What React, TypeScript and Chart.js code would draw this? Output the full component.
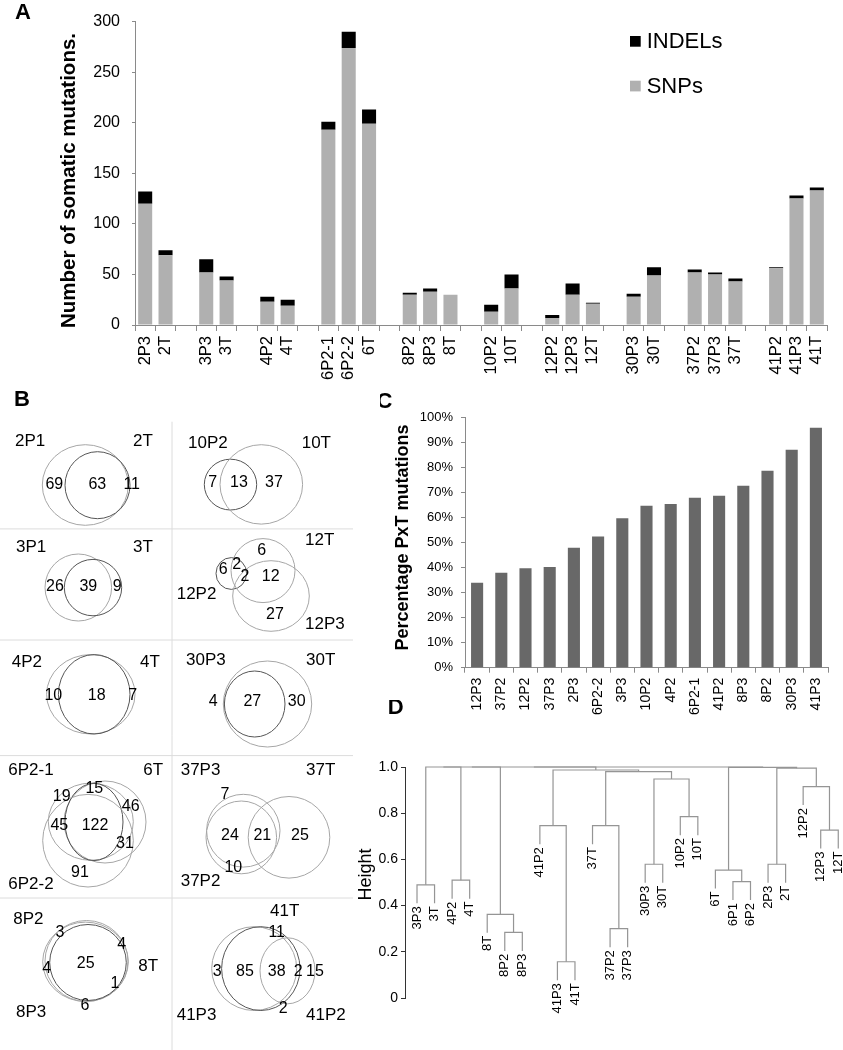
import React, { useEffect, useRef } from 'react';
import { Chart, registerables } from 'chart.js';

Chart.register(...registerables);

const FONT = '"Liberation Sans", Arial, Helvetica, sans-serif';

// ---------------- Panel A data ----------------
const A_CATEGORIES = ['2P3', '2T', '', '3P3', '3T', '', '4P2', '4T', '', '6P2-1', '6P2-2', '6T', '', '8P2', '8P3', '8T', '', '10P2', '10T', '', '12P2', '12P3', '12T', '', '30P3', '30T', '', '37P2', '37P3', '37T', '', '41P2', '41P3', '41T'];
const A_SNPS = [120, 69, null, 52, 44, null, 23, 19, null, 193, 274, 199, null, 30, 33, 30, null, 13, 36, null, 7, 30, 21, null, 28, 49, null, 52, 50, 43, null, 56, 125, 133];
const A_INDELS = [12, 5, null, 13, 4, null, 5, 6, null, 8, 16, 14, null, 2, 3, 0, null, 7, 14, null, 3, 11, 1, null, 3, 8, null, 3, 2, 3, null, 1, 3, 3];
const A_Y_TICKS = [0, 50, 100, 150, 200, 250, 300];

// ---------------- Panel C data ----------------
const C_CATEGORIES = ['12P3', '37P2', '12P2', '37P3', '2P3', '6P2-2', '3P3', '10P2', '4P2', '6P2-1', '41P2', '8P3', '8P2', '30P3', '41P3'];
const C_PERCENT = [34, 38, 39.8, 40.3, 48, 52.5, 59.8, 64.8, 65.5, 68, 68.8, 72.8, 78.8, 87.2, 96];
const C_Y_TICKS = [0, 10, 20, 30, 40, 50, 60, 70, 80, 90, 100];

// ---------------- Panel D data ----------------
const D_LEAVES = ['3P3', '3T', '4P2', '4T', '8T', '8P2', '8P3', '41P2', '41P3', '41T', '37T', '37P2', '37P3', '30P3', '30T', '10P2', '10T', '6T', '6P1', '6P2', '2P3', '2T', '12P2', '12P3', '12T'];
// [left, right, height] ; strings = leaves, numbers = earlier merge index
const D_MERGES: [string | number, string | number, number][] = [
  ['3P3', '3T', 0.49],
  ['4P2', '4T', 0.51],
  ['8P2', '8P3', 0.284],
  ['8T', 2, 0.362],
  ['41P3', '41T', 0.157],
  ['41P2', 4, 0.746],
  ['37P2', '37P3', 0.3],
  ['37T', 6, 0.746],
  ['30P3', '30T', 0.579],
  ['10P2', '10T', 0.785],
  [8, 9, 0.948],
  [7, 10, 0.98],
  [5, 11, 0.987],
  ['6P1', '6P2', 0.504],
  ['6T', 13, 0.554],
  ['2P3', '2T', 0.579],
  ['12P3', '12T', 0.727],
  ['12P2', 16, 0.915],
  [15, 17, 0.995],
  [14, 18, 0.998],
  [0, 1, 1.0],
  [20, 3, 1.0],
  [21, 12, 1.0],
  [22, 19, 1.0],
];
const D_Y_TICKS = [0, 0.2, 0.4, 0.6, 0.8, 1.0];
const D_HANG = 0.08;

// ---------------- Panel B data ----------------
const B_NAMES: string[][] = [
  ['2P1', '2T'],
  ['10P2', '10T'],
  ['3P1', '3T'],
  ['12T', '12P2', '12P3'],
  ['4P2', '4T'],
  ['30P3', '30T'],
  ['6P2-1', '6T', '6P2-2'],
  ['37P3', '37T', '37P2'],
  ['8P2', '8T', '8P3'],
  ['41T', '41P3', '41P2'],
];
const B_COUNTS: number[][] = [
  [69, 63, 11],
  [7, 13, 37],
  [26, 39, 9],
  [6, 6, 2, 2, 12, 27],
  [10, 18, 7],
  [4, 27, 30],
  [19, 15, 46, 45, 122, 31, 91],
  [7, 24, 21, 25, 10],
  [3, 4, 4, 25, 1, 6],
  [11, 3, 85, 38, 2, 15, 2],
];

// ---------------- Panel B layout (page px) ----------------
const B_NAME_POS: [number, number][][] = [
  [[15, 441.6], [133, 441.6]],
  [[188, 443.8], [301.7, 443.8]],
  [[16, 547.4], [133, 547.4]],
  [[305, 540.8], [176.7, 594.6], [305, 624.6]],
  [[11.7, 662], [140, 662]],
  [[186, 659.9], [306, 659.9]],
  [[8.3, 770], [143.3, 770], [8.3, 884]],
  [[180.7, 770], [306, 770], [180.7, 881.7]],
  [[13.3, 919], [138.3, 966.4], [16, 1012.7]],
  [[270, 911], [176.7, 1015.8], [306, 1015.8]],
];
const B_COUNT_POS: [number, number][][] = [
  [[54.3, 484.8], [97.3, 484.8], [131.7, 484.8]],
  [[212.7, 482.6], [239, 482.6], [274, 482.6]],
  [[55, 587], [88.3, 587], [117.3, 587]],
  [[261.7, 550.5], [223.3, 569.5], [236.7, 565], [245, 577], [270.7, 577], [275, 615]],
  [[53.3, 695.2], [96.7, 695.2], [132.7, 695.2]],
  [[213.3, 701.8], [252.3, 701.8], [296.7, 701.8]],
  [[61.7, 796.6], [94.3, 788.7], [130.7, 806.7], [59.3, 825.1], [95, 826], [125, 843.8], [80, 872.4]],
  [[225, 794.4], [230, 835.4], [262.3, 835.4], [300, 835.4], [233.3, 868]],
  [[60, 932.4], [121.7, 944.3], [46.7, 968.6], [85.7, 963.3], [115, 984], [85, 1006]],
  [[276.7, 932.4], [217.3, 972], [245, 972], [276.7, 972], [298.3, 972], [315, 972], [283.3, 1008.3]],
];
// [cx, cy, rx, ry, dark]
const B_ELLIPSES: [number, number, number, number, number][][] = [
  [[85.3, 485, 43, 40.3, 0], [97.5, 485.2, 32.5, 33.5, 1]],
  [[230.5, 484.6, 26.2, 25.4, 1], [261.3, 484.4, 41.3, 39.7, 0]],
  [[78.3, 587.5, 33.3, 33.5, 0], [93, 587.6, 28.7, 28.2, 1]],
  [[231.3, 573.5, 15.3, 15.9, 1], [263, 570.6, 32, 32, 0], [271, 596, 38.3, 35.3, 0]],
  [[90.8, 694.3, 44.2, 39.7, 0], [94.2, 694.3, 35.8, 39.7, 1]],
  [[267.5, 704, 44.2, 43, 0], [254.7, 704, 30.3, 33, 1]],
  [[90.8, 821.7, 42.5, 38.6, 0], [105, 822, 41, 41, 0], [94, 822, 29, 38.6, 1], [88, 840.7, 45.3, 46.3, 0]],
  [[289, 837.3, 40.8, 40.8, 0], [243.3, 830.7, 36.7, 36.4, 0], [241.3, 837.4, 35.3, 36.4, 0]],
  [[85.5, 961.8, 42.8, 39.7, 0], [86.5, 961, 41.5, 40.5, 0], [88, 962.5, 38.3, 38, 1]],
  [[254.2, 968.6, 42.5, 41.9, 0], [260.8, 968.6, 39.2, 41.9, 1], [287.5, 970.8, 27.5, 33, 0]],
];
const B_GRID_V = [172, 421.7, 1050];
const B_GRID_H = [528.9, 640, 755.6, 898];

// ---------------- helpers ----------------
function ChartBox(props: { left: number; top: number; width: number; height: number; make: () => any }) {
  const ref = useRef<HTMLCanvasElement>(null);
  useEffect(() => {
    const chart = new Chart(ref.current as HTMLCanvasElement, props.make());
    return () => chart.destroy();
  }, []);
  return (
    <canvas
      ref={ref}
      width={props.width}
      height={props.height}
      style={{ position: 'absolute', left: props.left, top: props.top, width: props.width, height: props.height }}
    />
  );
}

function rotText(ctx: CanvasRenderingContext2D, text: string, x: number, y: number, font: string) {
  ctx.save();
  ctx.translate(x, y);
  ctx.rotate(-Math.PI / 2);
  ctx.font = font;
  ctx.textAlign = 'center';
  ctx.textBaseline = 'alphabetic';
  ctx.fillStyle = '#000';
  ctx.fillText(text, 0, 0);
  ctx.restore();
}

function letter(ctx: CanvasRenderingContext2D, t: string, x: number, y: number) {
  ctx.save();
  ctx.font = `bold 22px ${FONT}`;
  ctx.fillStyle = '#000';
  ctx.textAlign = 'center';
  ctx.textBaseline = 'middle';
  ctx.fillText(t, x, y);
  ctx.restore();
}

const AXIS = '#8a8a8a';

// ---------------- Panel A ----------------
function makeA() {
  const decor = {
    id: 'aDecor',
    afterDraw(chart: any) {
      const ctx = chart.ctx as CanvasRenderingContext2D;
      letter(ctx, 'A', 23, 13);
      rotText(ctx, 'Number of somatic mutations.', 75, 180.5, `bold 20.5px ${FONT}`);
      const items = [
        { ds: chart.data.datasets[1], y: 41.3 },
        { ds: chart.data.datasets[0], y: 86 },
      ];
      ctx.save();
      ctx.font = `22px ${FONT}`;
      ctx.textAlign = 'left';
      ctx.textBaseline = 'middle';
      items.forEach((it) => {
        ctx.fillStyle = it.ds.backgroundColor;
        ctx.fillRect(630, it.y - 5.3, 10.7, 10.7);
        ctx.fillStyle = '#000';
        ctx.fillText(it.ds.label, 646.7, it.y + 1);
      });
      ctx.restore();
    },
  };
  return {
    type: 'bar',
    data: {
      labels: A_CATEGORIES,
      datasets: [
        { label: 'SNPs', data: A_SNPS, backgroundColor: '#b0b0b0', barPercentage: 0.69, categoryPercentage: 1 },
        { label: 'INDELs', data: A_INDELS, backgroundColor: '#000000', barPercentage: 0.69, categoryPercentage: 1 },
      ],
    },
    options: {
      animation: false,
      responsive: false,
      devicePixelRatio: 1,
      layout: { padding: { left: 0, right: 16, top: 6, bottom: 0 } },
      plugins: { legend: { display: false }, tooltip: { enabled: false } },
      scales: {
        x: {
          stacked: true,
          grid: { display: true, drawOnChartArea: false, drawTicks: true, tickLength: 6, color: AXIS, offset: true },
          border: { display: true, color: AXIS },
          ticks: { minRotation: 90, maxRotation: 90, autoSkip: false, padding: 5, color: '#000', font: { size: 16.5, family: FONT } },
          afterFit: (s: any) => { s.height = 55; },
        },
        y: {
          stacked: true,
          min: 0,
          max: 300,
          afterBuildTicks: (s: any) => { s.ticks = A_Y_TICKS.map((v) => ({ value: v })); },
          grid: { display: true, drawOnChartArea: false, tickLength: 3, color: AXIS },
          border: { display: true, color: AXIS },
          ticks: { padding: 12, color: '#000', font: { size: 16, family: FONT } },
          afterFit: (s: any) => { s.width = 135; },
        },
      },
    },
    plugins: [decor],
  };
}

// ---------------- Panel C ----------------
function makeC() {
  const decor = {
    id: 'cDecor',
    afterDraw(chart: any) {
      const ctx = chart.ctx as CanvasRenderingContext2D;
      letter(ctx, 'C', 4.5, 32);
      rotText(ctx, 'Percentage PxT mutations', 27.5, 167.5, `bold 18px ${FONT}`);
    },
  };
  return {
    type: 'bar',
    data: {
      labels: C_CATEGORIES,
      datasets: [{ label: 'PxT', data: C_PERCENT, backgroundColor: '#686868', barPercentage: 0.5, categoryPercentage: 1 }],
    },
    options: {
      animation: false,
      responsive: false,
      devicePixelRatio: 1,
      layout: { padding: { left: 0, right: 15, top: 47.7, bottom: 0 } },
      plugins: { legend: { display: false }, tooltip: { enabled: false } },
      scales: {
        x: {
          grid: { display: true, drawOnChartArea: false, drawTicks: true, tickLength: 5, color: AXIS, offset: true },
          border: { display: true, color: AXIS },
          ticks: { minRotation: 90, maxRotation: 90, autoSkip: false, padding: 5, color: '#000', font: { size: 14, family: FONT } },
          afterFit: (s: any) => { s.height = 52.3; },
        },
        y: {
          min: 0,
          max: 100,
          afterBuildTicks: (s: any) => { s.ticks = C_Y_TICKS.map((v) => ({ value: v })); },
          grid: { display: true, drawOnChartArea: false, tickLength: 4, color: AXIS },
          border: { display: true, color: AXIS },
          ticks: { padding: 8, color: '#000', font: { size: 13, family: FONT }, callback: (v: any) => `${v}%` },
          afterFit: (s: any) => { s.width = 85; },
        },
      },
    },
    plugins: [decor],
  };
}

// ---------------- Panel D ----------------
function buildDendro() {
  const nodes: { x: number; h: number }[] = [];
  const segs: { x: number; y: number }[][] = [];
  const leafBottoms: number[] = new Array(D_LEAVES.length).fill(0);
  const resolve = (ref: string | number, parentH: number) => {
    if (typeof ref === 'string') {
      const i = D_LEAVES.indexOf(ref);
      const b = parentH - D_HANG;
      leafBottoms[i] = b;
      return { x: i, h: b };
    }
    return nodes[ref];
  };
  D_MERGES.forEach(([a, b, h]) => {
    const na = resolve(a, h);
    const nb = resolve(b, h);
    segs.push([
      { x: na.x, y: na.h },
      { x: na.x, y: h },
      { x: nb.x, y: h },
      { x: nb.x, y: nb.h },
    ]);
    nodes.push({ x: (na.x + nb.x) / 2, h });
  });
  return { segs, leafBottoms };
}

function makeD() {
  const { segs, leafBottoms } = buildDendro();
  const decor = {
    id: 'dDecor',
    afterDraw(chart: any) {
      const ctx = chart.ctx as CanvasRenderingContext2D;
      const xs = chart.scales.x;
      const ys = chart.scales.y;
      letter(ctx, 'D', 65.7, 8.4);
      rotText(ctx, 'Height', 41, 174.5, `18px ${FONT}`);
      ctx.save();
      ctx.font = `13px ${FONT}`;
      ctx.fillStyle = '#000';
      D_LEAVES.forEach((name, i) => {
        const px = xs.getPixelForValue(i);
        const py = ys.getPixelForValue(leafBottoms[i]) + 3;
        ctx.save();
        ctx.translate(px, py);
        ctx.rotate(-Math.PI / 2);
        ctx.textAlign = 'right';
        ctx.textBaseline = 'middle';
        ctx.fillText(name, 0, 0);
        ctx.restore();
      });
      ctx.restore();
    },
  };
  return {
    type: 'scatter',
    data: {
      datasets: segs.map((s) => ({
        data: s,
        showLine: true,
        borderColor: '#959595',
        borderWidth: 1.2,
        pointRadius: 0,
        fill: false,
        tension: 0,
        clip: false,
      })),
    },
    options: {
      animation: false,
      responsive: false,
      devicePixelRatio: 1,
      layout: { padding: { left: 0, right: 0, top: 67, bottom: 52 } },
      plugins: { legend: { display: false }, tooltip: { enabled: false } },
      scales: {
        x: { type: 'linear', display: false, min: -0.684, max: 24.27 },
        y: {
          type: 'linear',
          min: 0,
          max: 1,
          afterBuildTicks: (s: any) => { s.ticks = D_Y_TICKS.map((v) => ({ value: v })); },
          grid: { display: true, drawOnChartArea: false, tickLength: 4, color: '#333' },
          border: { display: true, color: '#333' },
          ticks: { padding: 3, color: '#000', font: { size: 14, family: FONT }, callback: (v: any) => (v === 0 ? '0' : Number(v).toFixed(1)) },
          afterFit: (s: any) => { s.width = 75; },
        },
      },
    },
    plugins: [decor],
  };
}

// ---------------- Panel B ----------------
function makeB() {
  const decor = {
    id: 'bDecor',
    afterDraw(chart: any) {
      const ctx = chart.ctx as CanvasRenderingContext2D;
      const xs = chart.scales.x;
      const ys = chart.scales.y;
      const X = (v: number) => xs.getPixelForValue(v);
      const Y = (v: number) => ys.getPixelForValue(v);
      ctx.save();
      ctx.strokeStyle = '#dcdcdc';
      ctx.lineWidth = 1;
      ctx.beginPath();
      ctx.moveTo(X(B_GRID_V[0]), Y(B_GRID_V[1]));
      ctx.lineTo(X(B_GRID_V[0]), Y(B_GRID_V[2]));
      B_GRID_H.forEach((h) => {
        ctx.moveTo(X(0), Y(h));
        ctx.lineTo(X(353), Y(h));
      });
      ctx.stroke();
      B_ELLIPSES.forEach((panel) =>
        panel.forEach(([cx, cy, rx, ry, dark]) => {
          ctx.beginPath();
          ctx.ellipse(X(cx), Y(cy), Math.abs(X(cx + rx) - X(cx)), Math.abs(Y(cy + ry) - Y(cy)), 0, 0, Math.PI * 2);
          ctx.strokeStyle = dark ? '#555555' : '#a6a6a6';
          ctx.lineWidth = 1;
          ctx.stroke();
        })
      );
      ctx.fillStyle = '#000';
      ctx.textBaseline = 'middle';
      ctx.textAlign = 'left';
      ctx.font = `17px ${FONT}`;
      B_NAMES.forEach((names, p) =>
        names.forEach((n, k) => {
          const [px, py] = B_NAME_POS[p][k];
          ctx.fillText(n, X(px), Y(py));
        })
      );
      ctx.textAlign = 'center';
      ctx.font = `16px ${FONT}`;
      B_COUNTS.forEach((counts, p) =>
        counts.forEach((c, k) => {
          const [px, py] = B_COUNT_POS[p][k];
          ctx.fillText(String(c), X(px), Y(py));
        })
      );
      ctx.restore();
      letter(ctx, 'B', X(22), Y(400));
    },
  };
  return {
    type: 'scatter',
    data: { datasets: [] },
    options: {
      animation: false,
      responsive: false,
      devicePixelRatio: 1,
      layout: { padding: 0 },
      plugins: { legend: { display: false }, tooltip: { enabled: false } },
      scales: {
        x: { type: 'linear', display: false, min: 0, max: 365 },
        y: { type: 'linear', display: false, min: 380, max: 1050, reverse: true },
      },
    },
    plugins: [decor],
  };
}

export default function App() {
  return (
    <div style={{ position: 'absolute', left: 0, top: 0, width: 843, height: 1050, background: '#fff', overflow: 'hidden' }}>
      <ChartBox left={0} top={0} width={843} height={380} make={makeA} />
      <ChartBox left={0} top={380} width={365} height={670} make={makeB} />
      <ChartBox left={380} top={370} width={463} height={350} make={makeC} />
      <ChartBox left={330} top={700} width={513} height={350} make={makeD} />
    </div>
  );
}
